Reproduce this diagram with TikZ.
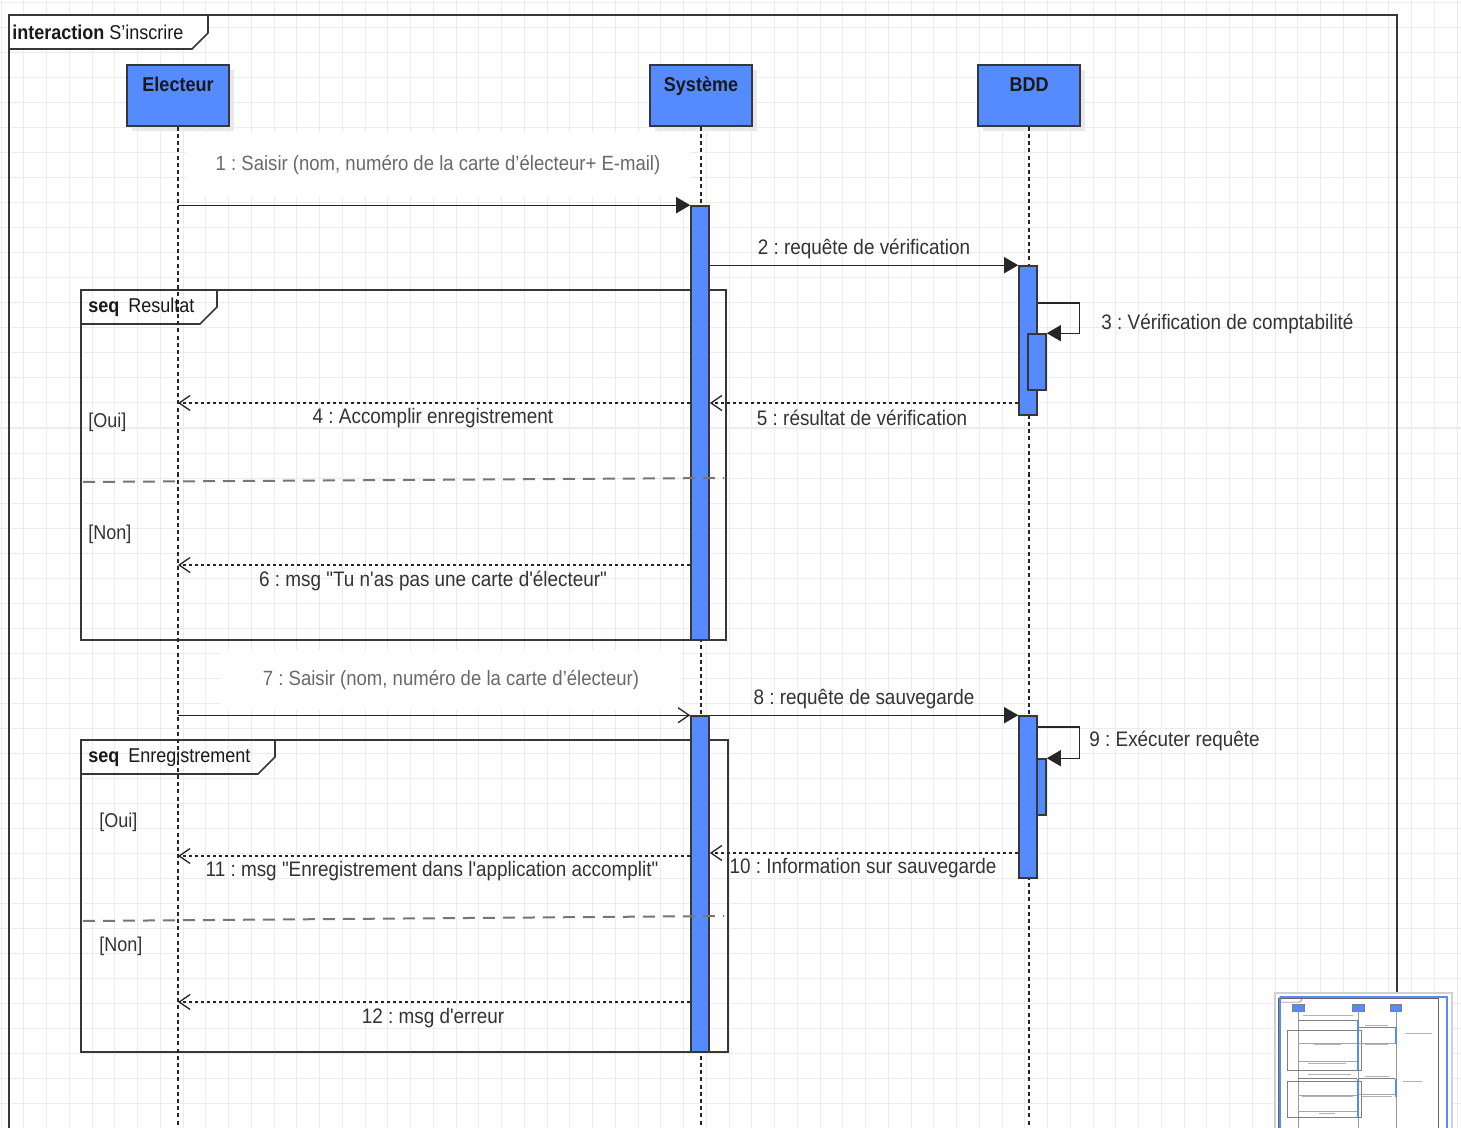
\documentclass[tikz,border=0pt]{standalone}
\usepackage{fontspec}
\setmainfont{Liberation Sans}[FakeStretch=0.9, Ligatures=TeXOff]
\usetikzlibrary{arrows.meta,fit,calc,shadows}
\definecolor{lifeblue}{RGB}{85,139,255}
\definecolor{framegray}{RGB}{55,55,55}
\definecolor{labelgray}{RGB}{105,105,105}
\definecolor{gridgray}{RGB}{236,236,236}
\definecolor{sepgray}{RGB}{118,118,118}
\definecolor{viewblue}{RGB}{90,140,240}
\frenchspacing
\begin{document}
\begin{tikzpicture}[x=0.5pt,y=-0.5pt,
  head/.style={draw=framegray, line width=0.9pt, fill=lifeblue,
    minimum width=51pt, minimum height=30.5pt, inner sep=0pt,
    drop shadow={shadow xshift=2.5pt, shadow yshift=-2.5pt, fill=black!9, opacity=1}},
  headtext/.style={font=\bfseries\fontsize{10}{12}\selectfont, text=black!90, anchor=base, inner sep=0pt},
  act/.style={draw=framegray, line width=0.8pt, fill=lifeblue, inner sep=0pt},
  lifeline/.style={draw=black!85, line width=0.65pt, dash pattern=on 2pt off 1.6pt},
  frame/.style={draw=framegray, line width=0.8pt},
  sep/.style={draw=sepgray, line width=1pt, dash pattern=on 6pt off 4pt},
  sync/.style={draw=black!85, line width=0.65pt, -{Triangle[length=7pt,width=8pt]}},
  async/.style={draw=black!85, line width=0.65pt, -{Straight Barb[length=5.5pt,width=7.5pt]}},
  reply/.style={draw=black!85, line width=0.65pt, dash pattern=on 1.5pt off 1.5pt,
    -{Straight Barb[length=5.5pt,width=7.5pt]}},
  glabel/.style={font=\fontsize{10.3}{12}\selectfont, text=labelgray, fill=white, inner sep=0pt},
  mlabel/.style={font=\fontsize{10.5}{12}\selectfont, text=black!80, inner sep=0pt},
  guard/.style={font=\fontsize{10}{12}\selectfont, text=black!80, inner sep=0pt, anchor=west},
  ftext/.style={font=\fontsize{10}{12}\selectfont, text=black!90, inner sep=0pt, anchor=west},
  mini/.style={line width=0.3pt}
]
% page and grid
\useasboundingbox (0,0) rectangle (1461,1128);
\fill[white] (0,0) rectangle (1461,1128);
\begin{scope}
\clip (0,0) rectangle (1461,1128);
\foreach \i in {0,...,64} \draw[gridgray, line width=0.5pt] (1+\i*22.75,0) -- ++(0,1128);
\foreach \j in {0,...,45} \draw[gridgray, line width=0.5pt] (0,3+\j*25) -- ++(1461,0);

% interaction frame
\draw[frame] (9,1140) -- (9,15) -- (1397,15) -- (1397,1140);
\filldraw[frame, fill=white] (9,15) -- (208,15) -- (208,33) -- (192,49) -- (9,49) -- cycle;
\node[ftext] (ititle) at (12,32) {\textbf{interaction} S’inscrire};

% combined fragments
\draw[frame] (81,290) rectangle (726,640);
\draw[frame] (81,324) -- (200,324) -- (217,307) -- (217,290);
\node[ftext] (fres) at (88,307) {\textbf{seq}\hspace{2pt} Resultat};
\draw[frame] (81,740) rectangle (728,1052);
\draw[frame] (81,774) -- (258,774) -- (275,757) -- (275,740);
\node[ftext] (fenr) at (88,757) {\textbf{seq}\hspace{2pt} Enregistrement};

% lifeline heads
\node[head, label={[headtext, yshift=-13.5pt]north:Electeur}] (elec) at (178,95.5) {};
\node[head, label={[headtext, yshift=-13.5pt]north:Système}] (sys) at (701,95.5) {};
\node[head, label={[headtext, yshift=-13.5pt]north:BDD}] (bdd) at (1029,95.5) {};

% lifelines
\draw[lifeline] (elec.south) -- (elec |- 0,1140);
\draw[lifeline] (sys.south) -- (sys |- 0,1140);
\draw[lifeline] (bdd.south) -- (bdd |- 0,1140);

% message labels with white backing
\node[glabel, minimum width=252pt, minimum height=32pt] (lbl1) at (438,165)
  {1 : Saisir (nom, numéro de la carte d’électeur+ E-mail)};
\node[glabel, minimum width=230pt, minimum height=30pt] (lbl7) at (451,680)
  {7 : Saisir (nom, numéro de la carte d’électeur)};

% activation bars
\node[act, fit={(691,206)(709,640)}] (sa1) {};
\node[act, fit={(691,716)(709,1052)}] (sa2) {};
\node[act, fit={(1019,266)(1037,415)}] (bb1) {};
\node[act, fit={(1028,334)(1046,390)}] (bb1n) {};
\node[act, fit={(1028,759)(1046,815)}] (bb2n) {};
\node[act, fit={(1019,716)(1037,878)}] (bb2) {};

% alternative separators
\draw[sep] (83,482) -- (724,478);
\draw[sep] (83,921) -- (724,916);

% guards
\node[guard] (g1) at (88,422) {[Oui]};
\node[guard] (g2) at (88,534) {[Non]};
\node[guard] (g3) at (99,822) {[Oui]};
\node[guard] (g4) at (99,946) {[Non]};

% messages
\draw[sync] (elec |- sa1.north) -- (sa1.north west);
\draw[sync] (sa1.east |- bb1.north) -- (bb1.north west);
\draw[sync] (bb1.east |- 0,303) -| ($(bb1n.north east)+(33,0)$) -- (bb1n.north east);
\draw[reply] (bb1.west |- 0,403) -- (sa1.east |- 0,403);
\draw[reply] (sa1.west |- 0,403) -- (elec |- 0,403);
\draw[reply] (sa1.west |- 0,565) -- (elec |- 0,565);
\draw[async] (elec |- sa2.north) -- (sa2.north west);
\draw[sync] (sa2.east |- bb2.north) -- (bb2.north west);
\draw[sync] (bb2.east |- 0,727) -| ($(bb2n.north east)+(33,0)$) -- (bb2n.north east);
\draw[reply] (bb2.west |- 0,853) -- (sa2.east |- 0,853);
\draw[reply] (sa2.west |- 0,856) -- (elec |- 0,856);
\draw[reply] (sa2.west |- 0,1002) -- (elec |- 0,1002);

\node[mlabel] (lbl2) at (864,249) {2 : requête de vérification};
\node[mlabel, anchor=west] (lbl3) at (1101,324) {3 : Vérification de comptabilité};
\node[mlabel] (lbl4) at (433,418) {4 : Accomplir enregistrement};
\node[mlabel] (lbl5) at (862,418) {5 : résultat de vérification};
\node[mlabel] (lbl6) at (433,581) {6 : msg "Tu n'as pas une carte d'électeur"};
\node[mlabel] (lbl8) at (864,699) {8 : requête de sauvegarde};
\node[mlabel, anchor=west] (lbl9) at (1089,741) {9 : Exécuter requête};
\node[mlabel] (lbl10) at (863,868) {10 : Information sur sauvegarde};
\node[mlabel] (lbl11) at (432,871) {11 : msg "Enregistrement dans l'application accomplit"};
\node[mlabel] (lbl12) at (433,1018) {12 : msg d'erreur};

% overview panel
\filldraw[fill=white, draw=black!18, line width=0.8pt] (1275,993) rectangle (1452,1135);
\begin{scope}[shift={(1277.5,996.5)}, scale=0.115]
  \draw[mini, black!60] (9,1150) -- (9,15) -- (1397,15) -- (1397,1150);
  \draw[mini, black!60] (9,49) -- (192,49) -- (208,33) -- (208,15);
  \foreach \cx in {178,701,1029} {
    \filldraw[mini, fill=lifeblue, draw=black!50] (\cx-51,65) rectangle (\cx+51,126);
    \draw[mini, black!40] (\cx,126) -- (\cx,1150);
  }
  \draw[mini, black!50] (81,290) rectangle (726,640);
  \draw[mini, black!50] (81,740) rectangle (728,1052);
  \foreach \ya/\yb in {206/640,716/1052} \fill[lifeblue] (691,\ya) rectangle (709,\yb);
  \foreach \ya/\yb in {266/415,716/878} \fill[lifeblue] (1019,\ya) rectangle (1037,\yb);
  \foreach \y in {206,715} \draw[mini, black!50] (178,\y) -- (691,\y);
  \foreach \y in {266,715} \draw[mini, black!50] (709,\y) -- (1019,\y);
  \foreach \y in {403,565,856,1002} \draw[mini, black!35] (178,\y) -- (691,\y);
  \foreach \y in {403,853} \draw[mini, black!35] (709,\y) -- (1019,\y);
  \foreach \x/\y/\w in {438/165/440,864/249/200,1225/324/240,433/418/230,862/418/200,
                       433/581/330,451/679/380,864/699/210,1172/741/160,863/868/260,
                       432/871/440,433/1018/140}
    \fill[black!30] (\x-\w/2,\y-5) rectangle (\x+\w/2,\y+5);
\end{scope}
\draw[viewblue, line width=1.2pt] (1280,997) -- (1280,1135) (1280,997) -- (1447,997) -- (1447,1135);
\end{scope}
\end{tikzpicture}
\end{document}
